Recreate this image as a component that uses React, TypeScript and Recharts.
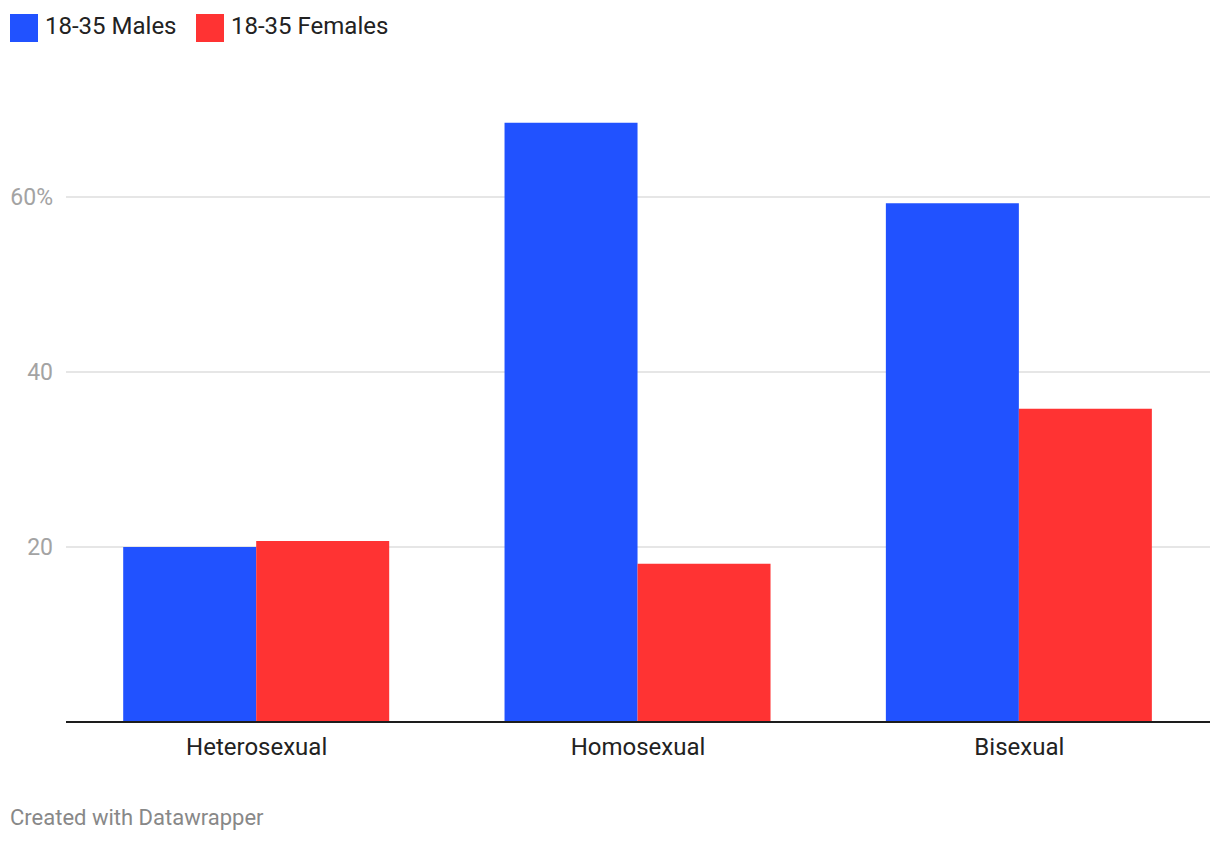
import { Bar, BarChart, CartesianGrid, XAxis, YAxis } from "recharts";

const categories = ["Heterosexual", "Homosexual", "Bisexual"];
const males = [20.0, 68.5, 59.3];
const females = [20.7, 18.1, 35.8];
const yTicks = [20, 40, 60];

const MALE_COLOR = "#2152ff";
const FEMALE_COLOR = "#ff3333";

const data = categories.map((name, i) => ({
  name,
  males: males[i],
  females: females[i],
}));

function LegendItem({ left, color, label }: { left: number; color: string; label: string }) {
  return (
    <>
      <div
        style={{
          position: "absolute",
          left,
          top: 14,
          width: 28,
          height: 28,
          background: color,
        }}
      />
      <div
        style={{
          position: "absolute",
          left: left + 35,
          top: 12,
          fontSize: 24,
          lineHeight: "28px",
          color: "#222",
          whiteSpace: "nowrap",
        }}
      >
        {label}
      </div>
    </>
  );
}

export default function App() {
  return (
    <div
      style={{
        position: "absolute",
        left: 0,
        top: 0,
        width: 1220,
        height: 844,
        background: "#fff",
        fontFamily: "Roboto, sans-serif",
      }}
    >
      <LegendItem left={10} color={MALE_COLOR} label="18-35 Males" />
      <LegendItem left={196} color={FEMALE_COLOR} label="18-35 Females" />

      <BarChart
        width={1220}
        height={844}
        data={data}
        margin={{ top: 109.5, right: 10, left: 0, bottom: 82 }}
        barCategoryGap="15%"
        barGap={0}
        style={{ position: "absolute", left: 0, top: 0 }}
      >
        <CartesianGrid
          vertical={false}
          horizontalValues={yTicks}
          stroke="#e6e6e6"
          strokeWidth={2}
        />
        <YAxis
          width={66}
          domain={[0, 70]}
          ticks={yTicks}
          tickFormatter={(v: number) => (v === 60 ? `${v}%` : String(v))}
          axisLine={false}
          tickLine={false}
          tickSize={0}
          tickMargin={13}
          tick={{ fill: "#a3a3a3", fontSize: 23 }}
        />
        <XAxis
          dataKey="name"
          height={40}
          axisLine={{ stroke: "#1d1d1d", strokeWidth: 2 }}
          tickLine={false}
          tickSize={0}
          tickMargin={16}
          tick={{ fill: "#222", fontSize: 24 }}
        />
        <Bar dataKey="males" name="18-35 Males" fill={MALE_COLOR} isAnimationActive={false} />
        <Bar dataKey="females" name="18-35 Females" fill={FEMALE_COLOR} isAnimationActive={false} />
      </BarChart>

      <div
        style={{
          position: "absolute",
          left: 10,
          top: 805,
          fontSize: 22,
          color: "#888",
          whiteSpace: "nowrap",
        }}
      >
        Created with Datawrapper
      </div>
    </div>
  );
}
